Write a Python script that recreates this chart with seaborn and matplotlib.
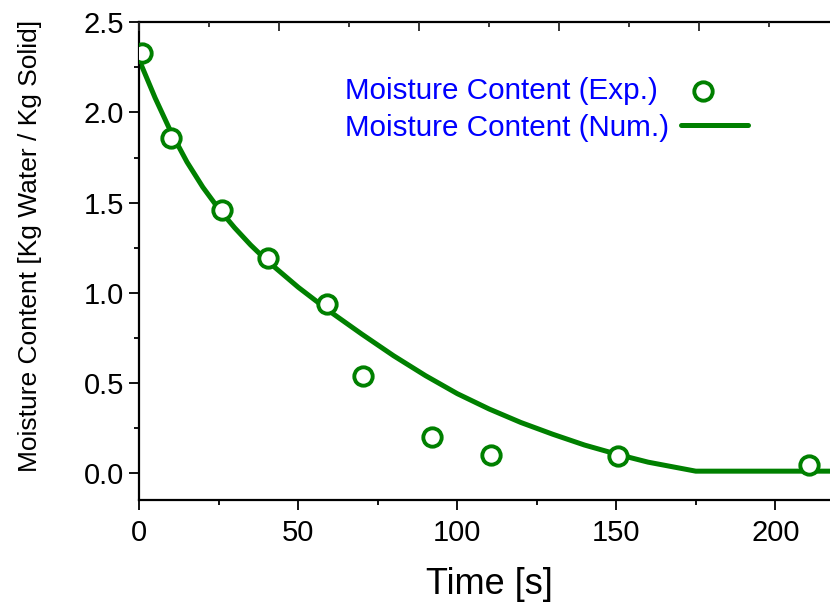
import matplotlib
matplotlib.use('Agg')
import matplotlib.pyplot as plt
import seaborn as sns

# experimental points
exp_time = [1, 10, 26, 40.5, 59, 70.5, 92, 110.5, 150.5, 210.5]
exp_moisture = [2.33, 1.86, 1.46, 1.19, 0.935, 0.54, 0.20, 0.10, 0.095, 0.045]

# numerical curve
num_time = [0, 5, 10, 15, 20, 25, 30, 35, 40, 50, 60, 70, 80, 90, 100, 110, 120, 130, 140, 150,
            160, 175, 220]
num_moisture = [2.29, 2.08, 1.89, 1.725, 1.585, 1.465, 1.36, 1.265, 1.18, 1.03, 0.895, 0.77, 0.65,
                0.54, 0.44, 0.355, 0.28, 0.215, 0.155, 0.105, 0.06, 0.01, 0.01]

GREEN = '#008000'

sns.set_theme(style='ticks')
plt.rcParams['font.family'] = ['Liberation Sans', 'DejaVu Sans']
plt.rcParams['text.color'] = 'black'
plt.rcParams['axes.labelcolor'] = 'black'

fig = plt.figure(figsize=(8.3, 6.03), dpi=100)
ax = fig.add_axes([0.1678, 0.1708, 0.8429, 0.7922])

sns.lineplot(x=num_time, y=num_moisture, ax=ax, color=GREEN, linewidth=3.6,
             label='Moisture Content (Num.)', zorder=2)
sns.scatterplot(x=exp_time, y=exp_moisture, ax=ax, marker='o', s=175, facecolor='white',
                edgecolor=GREEN, linewidth=2.8, label='Moisture Content (Exp.)', zorder=3)

ax.set_xlim(0, 220)
ax.set_ylim(-0.15, 2.5)
ax.set_xticks([0, 50, 100, 150, 200])
ax.set_xticks([25, 75, 125, 175], minor=True)
ax.set_yticks([0.0, 0.5, 1.0, 1.5, 2.0, 2.5])
ax.set_yticks([0.25, 0.75, 1.25, 1.75, 2.25], minor=True)
ax.set_yticklabels(['0.0', '0.5', '1.0', '1.5', '2.0', '2.5'])
ax.tick_params(which='major', direction='out', length=7, width=1.3, labelsize=21, color='black',
               labelcolor='black')
ax.tick_params(which='minor', direction='out', length=3.6, width=1.3, color='black')
ax.tick_params(axis='x', pad=7)
ax.tick_params(axis='y', pad=4)
for sp in ax.spines.values():
    sp.set_linewidth(1.6)
    sp.set_color('black')
    sp.set_visible(True)

ax.set_xlabel('Time [s]', fontsize=26, labelpad=14, color='black')
ax.set_ylabel('Moisture Content [Kg Water / Kg Solid]', fontsize=19, labelpad=30, color='black')
ax.yaxis.label.set_y(0.531)

# top axis ticks (inward, no labels)
top = ax.twiny()
top.set_xlim(0, 220)
top.set_xticks([0, 44, 88, 132, 176, 220])
top.set_xticks([22, 66, 110, 154, 198], minor=True)
top.tick_params(axis='x', which='major', direction='in', length=6.5, width=1.3, labeltop=False)
top.tick_params(axis='x', which='minor', direction='in', length=3.4, width=1.3)
top.set_xticklabels([])
for sp in top.spines.values():
    sp.set_visible(False)

# right axis ticks (inward, no labels)
right = ax.twinx()
right.set_ylim(0, 1)
right.set_yticks([0.1827, 0.401, 0.619, 0.837])
right.set_yticks([0.0737, 0.292, 0.510, 0.728, 0.946], minor=True)
right.tick_params(axis='y', which='major', direction='in', length=6.5, width=1.3, labelright=False)
right.tick_params(axis='y', which='minor', direction='in', length=3.4, width=1.3)
right.set_yticklabels([])
for sp in right.spines.values():
    sp.set_visible(False)

handles, labels = ax.get_legend_handles_labels()
order = [labels.index('Moisture Content (Exp.)'), labels.index('Moisture Content (Num.)')]
leg = ax.legend([handles[i] for i in order], [labels[i] for i in order],
                loc='upper left', bbox_to_anchor=(345 / 830, 1 - 77 / 603),
                bbox_transform=fig.transFigure,
                frameon=False, markerfirst=False, fontsize=21.3, labelcolor='blue',
                borderpad=0, borderaxespad=0, handlelength=2.25, handletextpad=0.4,
                labelspacing=0.29)
# keep the labels left aligned, handles just after the text
for col in leg._legend_handle_box.get_children():
    col.align = 'left'

fig.savefig('out.png', dpi=100)
